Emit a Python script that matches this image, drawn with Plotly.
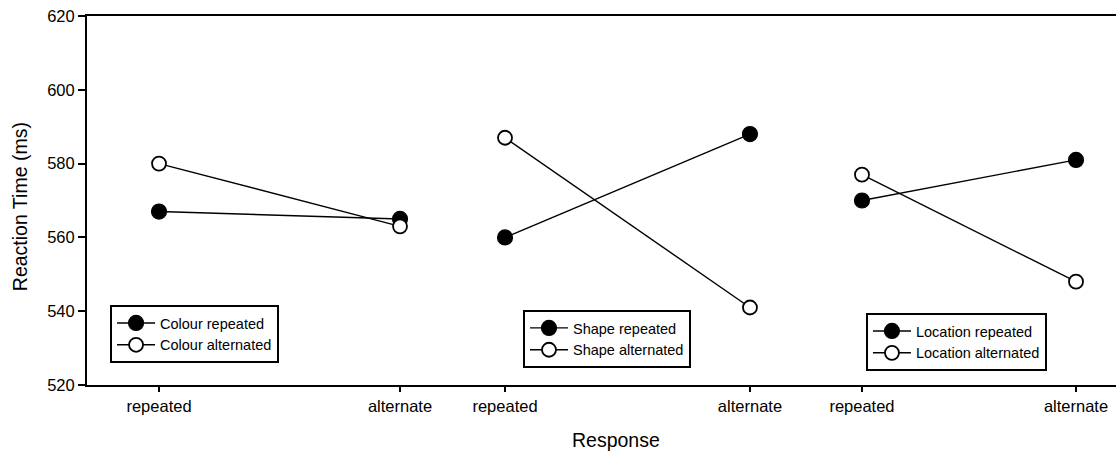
import plotly.graph_objects as go

# ---- data ----
responses = ["repeated", "alternate"]
colour_repeated = [567, 565]
colour_alternated = [580, 563]
shape_repeated = [560, 588]
shape_alternated = [587, 541]
location_repeated = [570, 581]
location_alternated = [577, 548]
y_ticks = [520, 540, 560, 580, 600, 620]

FONT = "Arial, Liberation Sans, Helvetica, sans-serif"

fig = go.Figure()

panels = [
    ("x", "legend", "Colour repeated", colour_repeated, "Colour alternated", colour_alternated),
    ("x2", "legend2", "Shape repeated", shape_repeated, "Shape alternated", shape_alternated),
    ("x3", "legend3", "Location repeated", location_repeated, "Location alternated", location_alternated),
]

for xa, lg, n1, v1, n2, v2 in panels:
    fig.add_trace(go.Scatter(
        x=responses, y=v1, name=n1, xaxis=xa, yaxis="y", legend=lg,
        mode="lines+markers",
        line=dict(color="black", width=1.4),
        marker=dict(symbol="circle", size=15, color="black",
                    line=dict(color="black", width=1.2)),
    ))
    fig.add_trace(go.Scatter(
        x=responses, y=v2, name=n2, xaxis=xa, yaxis="y", legend=lg,
        mode="lines+markers",
        line=dict(color="black", width=1.4),
        marker=dict(symbol="circle", size=14, color="white",
                    line=dict(color="black", width=1.8)),
    ))

xcommon = dict(
    type="category", showline=True, linecolor="black", linewidth=2,
    mirror=True, ticks="outside", ticklen=5, tickwidth=1.5, tickcolor="black",
    showgrid=False, zeroline=False, anchor="y",
    tickfont=dict(family=FONT, size=16.5, color="black"),
)

legend_common = dict(
    bgcolor="white", bordercolor="black", borderwidth=2,
    font=dict(family=FONT, size=14.5, color="black"),
    xanchor="left", yanchor="top", tracegroupgap=0, itemwidth=38,
)

fig.update_layout(
    width=1116, height=455,
    margin=dict(l=87, r=0, t=16, b=70),
    plot_bgcolor="white", paper_bgcolor="white",
    font=dict(family=FONT, color="black"),
    showlegend=True,
    xaxis=dict(domain=[0, 0.3353], range=[-0.2988, 1.1328], **xcommon),
    xaxis2=dict(domain=[0.3353, 0.6987], range=[-0.298, 1.2286], **xcommon),
    xaxis3=dict(domain=[0.6987, 1.0], range=[-0.2617, 1.1869], **xcommon),
    yaxis=dict(
        range=[520, 620], tickvals=y_ticks, showline=True, linecolor="black",
        linewidth=2, ticks="outside", ticklen=7, tickwidth=1.5, tickcolor="black",
        showgrid=False, zeroline=False, anchor="x",
        tickfont=dict(family=FONT, size=16.5, color="black"),
    ),
    legend=dict(x=0.0224, y=0.2168, **legend_common),
    legend2=dict(x=0.4237, y=0.2033, **legend_common),
    legend3=dict(x=0.757, y=0.195, **legend_common),
    annotations=[
        dict(text="Reaction Time (ms)", xref="paper", yref="paper",
             x=-0.0651, y=0.482, textangle=-90, showarrow=False,
             xanchor="center", yanchor="middle",
             font=dict(family=FONT, size=19.5, color="black")),
        dict(text="Response", xref="paper", yref="paper",
             x=0.514, y=-0.149, showarrow=False,
             xanchor="center", yanchor="middle",
             font=dict(family=FONT, size=19.5, color="black")),
    ],
)

fig.write_html(
    "out.html",
    config={"displayModeBar": False},
    post_script="document.body.style.margin='0px';document.body.style.overflow='hidden';",
)
